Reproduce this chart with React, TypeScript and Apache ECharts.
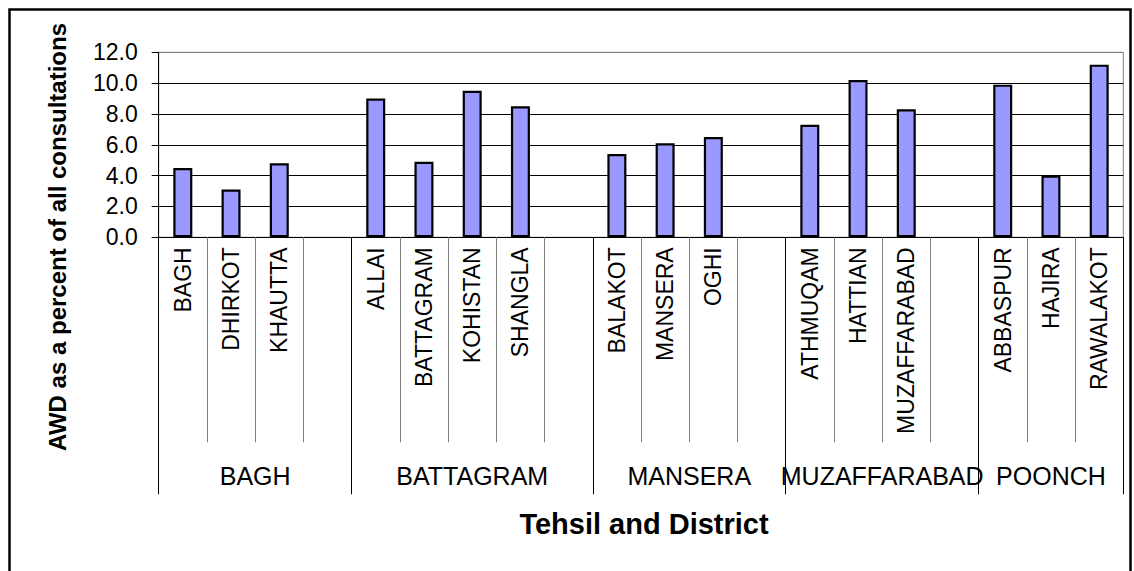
import React, { useEffect, useRef } from "react";
import * as echarts from "echarts";

const categories = [
  "BAGH", "DHIRKOT", "KHAUTTA", "",
  "ALLAI", "BATTAGRAM", "KOHISTAN", "SHANGLA", "",
  "BALAKOT", "MANSERA", "OGHI", "",
  "ATHMUQAM", "HATTIAN", "MUZAFFARABAD", "",
  "ABBASPUR", "HAJIRA", "RAWALAKOT",
];
const values = [
  4.5, 3.1, 4.8, null,
  9.0, 4.9, 9.5, 8.5, null,
  5.4, 6.1, 6.5, null,
  7.3, 10.2, 8.3, null,
  9.9, 4.0, 11.2,
];
const groupNames = ["BAGH", "BATTAGRAM", "MANSERA", "MUZAFFARABAD", "POONCH"];
const groupSizes = [4, 5, 4, 4, 3];
const yTicks = [0, 12, 2]; // min, max, interval
const yTitle = "AWD as a percent of all consultations";
const xTitle = "Tehsil and District";

const FONT = "'Liberation Sans', Arial, sans-serif";

export default function App() {
  const ref = useRef<HTMLDivElement>(null);
  useEffect(() => {
    if (!ref.current) return;
    const chart = echarts.init(ref.current, null, { renderer: "svg" });

    // half-category positions for group axis (boundaryGap false, 2*n+1 slots)
    const n = categories.length;
    const slots: string[] = [];
    for (let i = 0; i <= 2 * n; i++) slots.push(" ".repeat(i + 1));
    const boundaries = new Set<number>();
    const labelAt = new Map<number, string>();
    let start = 0;
    groupSizes.forEach((s, gi) => {
      boundaries.add(2 * start);
      labelAt.set(2 * start + s, groupNames[gi]);
      start += s;
    });
    boundaries.add(2 * start);
    labelAt.forEach((name, k) => (slots[k] = name));

    const nSplits = (yTicks[1] - yTicks[0]) / yTicks[2];
    const splitColors: string[] = [];
    for (let i = 0; i <= nSplits; i++) splitColors.push(i === nSplits ? "#808080" : "#000000");

    chart.setOption({
      animation: false,
      backgroundColor: "#ffffff",
      grid: {
        left: 158.7,
        right: 10.7,
        top: 52.3,
        bottom: 333.7,
        show: true,
        borderColor: "#808080",
        borderWidth: 1,
        backgroundColor: "transparent",
      },
      xAxis: [
        {
          type: "category",
          data: categories,
          position: "bottom",
          axisLine: { show: true, lineStyle: { color: "#000", width: 1 } },
          axisTick: {
            show: true,
            interval: 0,
            length: 205,
            lineStyle: { color: "#808080", width: 1 },
          },
          axisLabel: {
            interval: 0,
            rotate: 90,
            margin: 10,
            fontSize: 23,
            color: "#000",
            fontFamily: FONT,
          },
          splitLine: { show: false },
        },
        {
          type: "category",
          data: slots,
          position: "bottom",
          boundaryGap: false,
          axisLine: { show: false },
          axisTick: {
            show: true,
            length: 257,
            interval: (idx: number) => boundaries.has(idx),
            lineStyle: { color: "#000", width: 1 },
          },
          axisLabel: {
            interval: (idx: number) => labelAt.has(idx),
            margin: 226,
            fontSize: 25,
            color: "#000",
            fontFamily: FONT,
          },
          splitLine: { show: false },
        },
      ],
      yAxis: {
        type: "value",
        min: yTicks[0],
        max: yTicks[1],
        interval: yTicks[2],
        axisLine: { show: true, lineStyle: { color: "#000", width: 1 } },
        axisTick: { show: true, length: 7, lineStyle: { color: "#000" } },
        axisLabel: {
          formatter: (v: number) => v.toFixed(1),
          margin: 21,
          fontSize: 23,
          color: "#000",
          fontFamily: FONT,
        },
        splitLine: { show: true, lineStyle: { color: splitColors, width: 1 } },
      },
      series: [
        {
          type: "bar",
          xAxisIndex: 0,
          data: values,
          barWidth: 19,
          itemStyle: { color: "#9999FF", borderColor: "#000", borderWidth: 2.2 },
        },
      ],
      graphic: [
        {
          type: "rect",
          shape: { x: 9.5, y: 9.5, width: 1121, height: 570 },
          style: { fill: "none", stroke: "#000", lineWidth: 2.5 },
          silent: true,
        },
        {
          type: "text",
          x: 57,
          y: 237,
          rotation: Math.PI / 2,
          style: {
            text: yTitle,
            fontSize: 24,
            fontWeight: "bold",
            fontFamily: FONT,
            fill: "#000",
            align: "center",
            verticalAlign: "middle",
          },
        },
        {
          type: "text",
          x: 644,
          y: 524,
          style: {
            text: xTitle,
            fontSize: 29,
            fontWeight: "bold",
            fontFamily: FONT,
            fill: "#000",
            align: "center",
            verticalAlign: "middle",
          },
        },
      ],
    });
    return () => chart.dispose();
  }, []);
  return (
    <div
      ref={ref}
      style={{ position: "absolute", left: 0, top: 0, width: 1134, height: 571, background: "#fff" }}
    />
  );
}
